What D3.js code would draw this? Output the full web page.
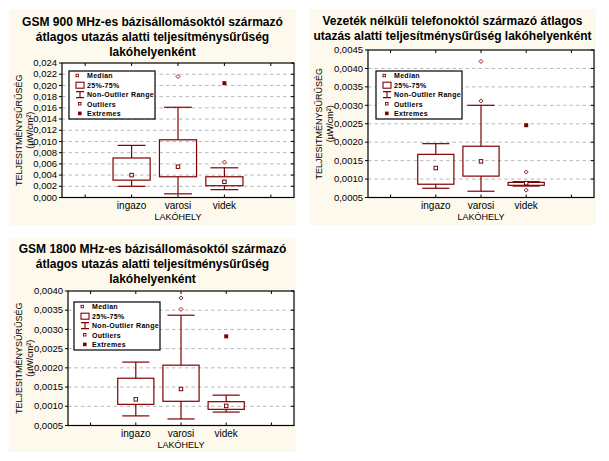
<!DOCTYPE html>
<html>
<head>
<meta charset="utf-8">
<script src="https://cdn.jsdelivr.net/npm/d3@7/dist/d3.min.js"></script>
<style>
  body { margin: 0; background: #fff; }
  svg { display: block; }
</style>
</head>
<body>
<svg id="chart" width="609" height="461"></svg>
<script>
const categories = ["ingazo", "varosi", "videk"];
const legendLabels = ["Median", "25%-75%", "Non-Outlier Range", "Outliers", "Extremes"];
const yTitle = "TELJESITMÉNYSŰRŰSÉG";
const yUnit = "(µW/cm²)";
const xTitle = "LAKÓHELY";

// GSM 900: [min, q1, median, q3, max] per category
const title900 = ["GSM 900 MHz-es bázisállomásoktól származó", "átlagos utazás alatti teljesítménysűrűség", "lakóhelyenként"];
const stats900 = [
  [0.0020, 0.0031, 0.0040, 0.00705, 0.0093],
  [0.00065, 0.0037, 0.0055, 0.0103, 0.0161],
  [0.0014, 0.0021, 0.0028, 0.0037, 0.0053]
];
const outliers900 = [[], [0.0216], [0.0063]];
const extremes900 = [[], [], [0.0204]];
const ticks900 = [0, 0.002, 0.004, 0.006, 0.008, 0.010, 0.012, 0.014, 0.016, 0.018, 0.020, 0.022, 0.024];

// cordless phones
const titleCordless = ["Vezeték nélküli telefonoktól származó átlagos", "utazás alatti teljesítménysűrűség lakóhelyenként"];
const statsCordless = [
  [0.00075, 0.00086, 0.0013, 0.00167, 0.00196],
  [0.00067, 0.00108, 0.00148, 0.00189, 0.0030],
  [0.00081, 0.00083, 0.00089, 0.00091, 0.00093]
];
const outliersCordless = [[], [0.00312, 0.00419], [0.00119, 0.0007]];
const extremesCordless = [[], [], [0.00246]];
const ticksCordless = [0.0005, 0.0010, 0.0015, 0.0020, 0.0025, 0.0030, 0.0035, 0.0040, 0.0045];

// GSM 1800
const title1800 = ["GSM 1800 MHz-es bázisállomásoktól származó", "átlagos utazás alatti teljesítménysűrűség", "lakóhelyenként"];
const stats1800 = [
  [0.00075, 0.00105, 0.00118, 0.00173, 0.00215],
  [0.00067, 0.00113, 0.00145, 0.00207, 0.00337],
  [0.00085, 0.00092, 0.00101, 0.00112, 0.00129]
];
const outliers1800 = [[], [0.00352, 0.00382], []];
const extremes1800 = [[], [], [0.00282]];
const ticks1800 = [0.0005, 0.0010, 0.0015, 0.0020, 0.0025, 0.0030, 0.0035, 0.0040];

const red = "#800000";
const cream = "#fdf9ec";
const huLocale = d3.formatLocale({decimal: ",", thousands: " ", grouping: [3], currency: ["", ""]});

const svg = d3.select("#chart");

function drawPanel(opt) {
  let {box, plot, title, titleY, legend, stats, outliers, extremes, ticks, fmt} = opt;
  let g = svg.append("g");
  let fmtTick = huLocale.format(fmt);

  g.append("rect")
    .attr("x", box.x).attr("y", box.y)
    .attr("width", box.w).attr("height", box.h)
    .attr("fill", cream);

  let cx = box.x + box.w / 2;
  g.selectAll(".title")
    .data(title)
    .enter().append("text")
    .attr("x", cx)
    .attr("y", (d, i) => titleY + i * 15)
    .attr("text-anchor", "middle")
    .style("font-family", "'Liberation Sans', Arial, sans-serif")
    .style("font-size", "12px")
    .style("font-weight", "bold")
    .text(d => d);

  let x = d3.scalePoint()
    .domain(categories)
    .range([plot.x, plot.x + plot.w])
    .padding(1.5);
  let step = x.step();
  let y = d3.scaleLinear()
    .domain([ticks[0], ticks[ticks.length - 1]])
    .range([plot.y + plot.h, plot.y]);

  g.append("rect")
    .attr("x", plot.x).attr("y", plot.y)
    .attr("width", plot.w).attr("height", plot.h)
    .attr("fill", "#fff");

  // grid
  g.selectAll(".grid")
    .data(ticks.slice(1, -1))
    .enter().append("line")
    .attr("x1", plot.x).attr("x2", plot.x + plot.w)
    .attr("y1", d => y(d)).attr("y2", d => y(d))
    .attr("stroke", "#b8b8b8")
    .attr("stroke-dasharray", "3.5 3");

  // boxes
  let bw = step * 0.8, cw = step * 0.6;
  let bx = g.selectAll(".bx")
    .data(stats)
    .enter().append("g")
    .attr("transform", (d, i) => `translate(${x(categories[i])},0)`);
  bx.append("line")
    .attr("y1", d => y(d[0])).attr("y2", d => y(d[1]))
    .attr("stroke", red).attr("stroke-width", 1.2);
  bx.append("line")
    .attr("y1", d => y(d[3])).attr("y2", d => y(d[4]))
    .attr("stroke", red).attr("stroke-width", 1.2);
  bx.append("line")
    .attr("x1", -cw / 2).attr("x2", cw / 2)
    .attr("y1", d => y(d[0])).attr("y2", d => y(d[0]))
    .attr("stroke", red).attr("stroke-width", 1.2);
  bx.append("line")
    .attr("x1", -cw / 2).attr("x2", cw / 2)
    .attr("y1", d => y(d[4])).attr("y2", d => y(d[4]))
    .attr("stroke", red).attr("stroke-width", 1.2);
  bx.append("rect")
    .attr("x", -bw / 2).attr("width", bw)
    .attr("y", d => y(d[3]))
    .attr("height", d => y(d[1]) - y(d[3]))
    .attr("fill", "none")
    .attr("stroke", red).attr("stroke-width", 1.2);
  bx.append("rect")
    .attr("x", -1.75).attr("width", 3.5)
    .attr("y", d => y(d[2]) - 1.75).attr("height", 3.5)
    .attr("fill", "#fff")
    .attr("stroke", red).attr("stroke-width", 1);

  // outliers and extremes
  outliers.forEach((list, i) => {
    g.selectAll(null)
      .data(list)
      .enter().append("path")
      .attr("d", d => {
        let px = x(categories[i]), py = y(d);
        return `M${px},${py - 2}L${px + 2},${py}L${px},${py + 2}L${px - 2},${py}Z`;
      })
      .attr("fill", "#fff")
      .attr("stroke", red).attr("stroke-width", 0.9);
  });
  extremes.forEach((list, i) => {
    g.selectAll(null)
      .data(list)
      .enter().append("rect")
      .attr("x", x(categories[i]) - 2).attr("width", 4)
      .attr("y", d => y(d) - 2).attr("height", 4)
      .attr("fill", red);
  });

  // frame
  g.append("rect")
    .attr("x", plot.x).attr("y", plot.y)
    .attr("width", plot.w).attr("height", plot.h)
    .attr("fill", "none")
    .attr("stroke", "#000").attr("stroke-width", 1.2);

  // y ticks
  g.selectAll(".yt")
    .data(ticks)
    .enter().append("line")
    .attr("x1", plot.x - 3).attr("x2", plot.x)
    .attr("y1", d => y(d)).attr("y2", d => y(d))
    .attr("stroke", "#000");
  g.selectAll(".yt2")
    .data(ticks)
    .enter().append("line")
    .attr("x1", plot.x + plot.w - 3).attr("x2", plot.x + plot.w)
    .attr("y1", d => y(d)).attr("y2", d => y(d))
    .attr("stroke", "#000");
  g.selectAll(".yl")
    .data(ticks)
    .enter().append("text")
    .attr("x", plot.x - 5)
    .attr("y", d => y(d) + 3.2)
    .attr("text-anchor", "end")
    .style("font-family", "'Liberation Sans Narrow', 'Arial Narrow', sans-serif")
    .style("font-size", "9.5px")
    .text(d => fmtTick(d));

  // x ticks (category slots incl. the empty ones)
  let xt = [x(categories[0]) - step].concat(categories.map(c => x(c)), [x(categories[categories.length - 1]) + step]);
  g.selectAll(".xt")
    .data(xt)
    .enter().append("path")
    .attr("d", d => `M${d},${plot.y}v3M${d},${plot.y + plot.h}v-3`)
    .attr("stroke", "#000");
  g.selectAll(".xl")
    .data(categories)
    .enter().append("text")
    .attr("x", d => x(d))
    .attr("y", plot.y + plot.h + 11)
    .attr("text-anchor", "middle")
    .style("font-family", "'Liberation Sans', Arial, sans-serif")
    .style("font-size", "10px")
    .text(d => d);
  g.append("text")
    .attr("x", plot.x + plot.w / 2)
    .attr("y", plot.y + plot.h + 22.5)
    .attr("text-anchor", "middle")
    .style("font-family", "'Liberation Sans', Arial, sans-serif")
    .style("font-size", "9px")
    .text(xTitle);

  // y title
  let my = plot.y + plot.h / 2;
  g.append("text")
    .attr("transform", `translate(${box.x + 13},${my}) rotate(-90)`)
    .attr("text-anchor", "middle")
    .style("font-family", "'Liberation Sans', Arial, sans-serif")
    .style("font-size", "9px")
    .text(yTitle);
  g.append("text")
    .attr("transform", `translate(${box.x + 24},${my}) rotate(-90)`)
    .attr("text-anchor", "middle")
    .style("font-family", "'Liberation Sans', Arial, sans-serif")
    .style("font-size", "9px")
    .text(yUnit);

  // legend
  let lg = g.append("g").attr("transform", `translate(${legend.x},${legend.y})`);
  lg.append("rect")
    .attr("width", 86).attr("height", 48)
    .attr("fill", "#fff")
    .attr("stroke", "#000").attr("stroke-width", 1.2);
  let row = i => 4.8 + i * 9.4;
  lg.append("rect")
    .attr("x", 7).attr("y", row(0) - 1.5).attr("width", 2.5).attr("height", 2.5)
    .attr("fill", "none").attr("stroke", red).attr("stroke-width", 0.9);
  lg.append("rect")
    .attr("x", 7).attr("y", row(1) - 3).attr("width", 8).attr("height", 6)
    .attr("fill", "none").attr("stroke", red).attr("stroke-width", 1.1);
  lg.append("path")
    .attr("d", `M7,${row(2) - 3}h8M11,${row(2) - 3}v6M7,${row(2) + 3}h8`)
    .attr("fill", "none").attr("stroke", red).attr("stroke-width", 1.1);
  lg.append("rect")
    .attr("x", 9.5).attr("y", row(3) - 1.5).attr("width", 2.5).attr("height", 2.5)
    .attr("fill", "none").attr("stroke", red).attr("stroke-width", 0.9);
  lg.append("rect")
    .attr("x", 9).attr("y", row(4) - 1.8).attr("width", 3.6).attr("height", 3.6)
    .attr("fill", red);
  lg.selectAll(".lt")
    .data(legendLabels)
    .enter().append("text")
    .attr("x", 18)
    .attr("y", (d, i) => row(i) + 2.5)
    .style("font-family", "'Liberation Sans', Arial, sans-serif")
    .style("font-size", "7px")
    .style("font-weight", "bold")
    .style("letter-spacing", "0.3px")
    .text(d => d);
}

drawPanel({
  box: {x: 9, y: 9, w: 287, h: 216},
  plot: {x: 62, y: 63, w: 232, h: 134.5},
  title: title900, titleY: 25.5,
  legend: {x: 69, y: 71},
  stats: stats900, outliers: outliers900, extremes: extremes900,
  ticks: ticks900, fmt: ".3f"
});
drawPanel({
  box: {x: 309, y: 9, w: 287, h: 216},
  plot: {x: 368, y: 50, w: 226, h: 147.5},
  title: titleCordless, titleY: 24.5,
  legend: {x: 376, y: 71},
  stats: statsCordless, outliers: outliersCordless, extremes: extremesCordless,
  ticks: ticksCordless, fmt: ".4f"
});
drawPanel({
  box: {x: 9, y: 238, w: 287, h: 214},
  plot: {x: 68, y: 291, w: 226, h: 134.5},
  title: title1800, titleY: 252.5,
  legend: {x: 74, y: 302},
  stats: stats1800, outliers: outliers1800, extremes: extremes1800,
  ticks: ticks1800, fmt: ".4f"
});
</script>
</body>
</html>
